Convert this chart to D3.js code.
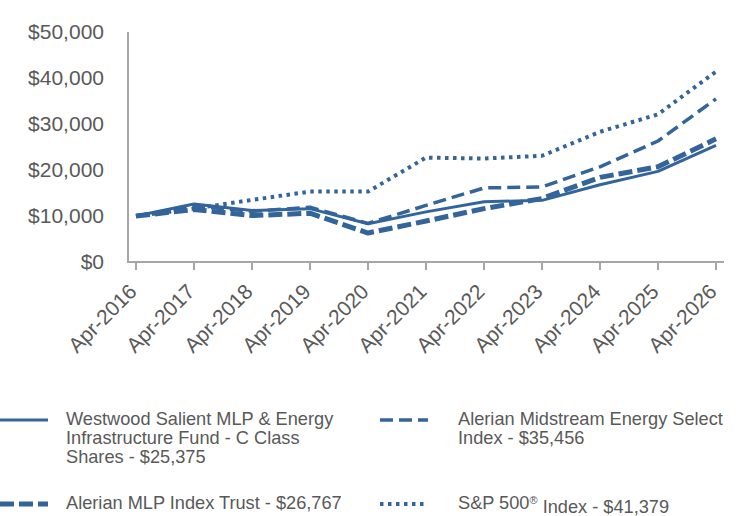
<!DOCTYPE html>
<html>
<head>
<meta charset="utf-8">
<script src="https://cdn.jsdelivr.net/npm/d3@7"></script>
<style>
  body { margin: 0; background: #fff; }
  svg { display: block; }
</style>
</head>
<body>
<div id="chart"></div>
<script>
// du lieu doc tu hinh
const years = ["Apr-2016", "Apr-2017", "Apr-2018", "Apr-2019", "Apr-2020", "Apr-2021",
               "Apr-2022", "Apr-2023", "Apr-2024", "Apr-2025", "Apr-2026"];
const fundC = [10000, 12600, 11200, 11600, 8300, 10900, 13100, 13400, 16800, 19700, 25375];
const midstream = [10000, 12200, 11000, 11900, 8400, 12300, 16100, 16300, 20700, 26300, 35456];
const mlpTrust = [10000, 11400, 10100, 10600, 6300, 8900, 11600, 13800, 18400, 20700, 26767];
const sp500 = [10000, 11600, 13500, 15300, 15300, 22700, 22500, 23100, 28300, 32100, 41379];
const yTicks = [0, 10000, 20000, 30000, 40000, 50000];

const series = [
  { name: "Westwood Salient MLP & Energy Infrastructure Fund - C Class Shares - $25,375", values: fundC, width: 3, dash: null },
  { name: "Alerian Midstream Energy Select Index - $35,456", values: midstream, width: 3.5, dash: "13,6" },
  { name: "Alerian MLP Index Trust - $26,767", values: mlpTrust, width: 5, dash: "14,5" },
  { name: "S&P 500® Index - $41,379", values: sp500, width: 4, dash: "3.5,4.5" }
];

const W = 744, H = 516;
const color = "#33649A";
const textColor = "#595959";
const axisColor = "#A6A6A6";
const font = "Liberation Sans, Arial, sans-serif";

const svg = d3.select("#chart").append("svg")
  .attr("width", W).attr("height", H);

const x = d3.scalePoint().domain(years).range([136, 716]);
const y = d3.scaleLinear().domain([0, 50000]).range([262, 32]);

// truc Y
svg.append("line")
  .attr("x1", 128).attr("x2", 128).attr("y1", 32).attr("y2", 262)
  .attr("stroke", axisColor).attr("stroke-width", 2);
svg.selectAll(".ylab").data(yTicks).join("text")
  .attr("class", "ylab")
  .attr("x", 104).attr("y", d => y(d)).attr("dy", "0.35em")
  .attr("text-anchor", "end")
  .style("font-family", font)
  .style("font-size", "21px").style("fill", textColor)
  .text(d => "$" + d3.format(",")(d));

// truc X
svg.append("line")
  .attr("x1", 127).attr("x2", 724).attr("y1", 262).attr("y2", 262)
  .attr("stroke", axisColor).attr("stroke-width", 2);
svg.selectAll(".xtick").data(years).join("line")
  .attr("class", "xtick")
  .attr("x1", d => x(d)).attr("x2", d => x(d)).attr("y1", 262).attr("y2", 270)
  .attr("stroke", axisColor).attr("stroke-width", 2);
svg.selectAll(".xlab").data(years).join("text")
  .attr("class", "xlab")
  .attr("transform", d => `translate(${x(d) + 2},${293}) rotate(-45)`)
  .attr("text-anchor", "end")
  .style("font-family", font)
  .style("font-size", "21px").style("fill", textColor)
  .text(d => d);

// cac duong
const line = d3.line()
  .x((d, i) => x(years[i]))
  .y(d => y(d));

svg.selectAll(".series").data(series).join("path")
  .attr("class", "series")
  .attr("d", d => line(d.values))
  .attr("fill", "none")
  .attr("stroke", color)
  .attr("stroke-width", d => d.width)
  .attr("stroke-dasharray", d => d.dash)
  .attr("stroke-linejoin", "round");

// chu thich
const legendPos = [
  { sx: 0, tx: 66, ty: 419, lines: ["Westwood Salient MLP & Energy", "Infrastructure Fund - C Class", "Shares - $25,375"] },
  { sx: 380, tx: 458, ty: 419, lines: ["Alerian Midstream Energy Select", "Index - $35,456"] },
  { sx: 0, tx: 66, ty: 503, lines: ["Alerian MLP Index Trust - $26,767"] },
  { sx: 380, tx: 458, ty: 503, lines: ["S&P 500® Index - $41,379"] }
];

series.forEach((s, i) => {
  const p = legendPos[i];
  svg.append("line")
    .attr("x1", p.sx).attr("x2", p.sx + 48)
    .attr("y1", p.ty + 1).attr("y2", p.ty + 1)
    .attr("stroke", color)
    .attr("stroke-width", s.width)
    .attr("stroke-dasharray", s.dash);
  // moi dong la mot text rieng
  p.lines.forEach((l, j) => {
    const t = svg.append("text")
      .attr("x", p.tx).attr("y", p.ty + j * 19).attr("dy", "0.35em")
      .style("font-family", font)
      .style("font-size", "18.2px").style("fill", textColor);
    if (l.includes("®")) {
      const parts = l.split("®");
      t.append("tspan").text(parts[0]);
      t.append("tspan").attr("dy", "-0.45em").style("font-size", "11px").text("®");
      t.append("tspan").attr("dy", "0.45em").text(parts[1]);
    } else {
      t.text(l);
    }
  });
});
</script>
</body>
</html>
